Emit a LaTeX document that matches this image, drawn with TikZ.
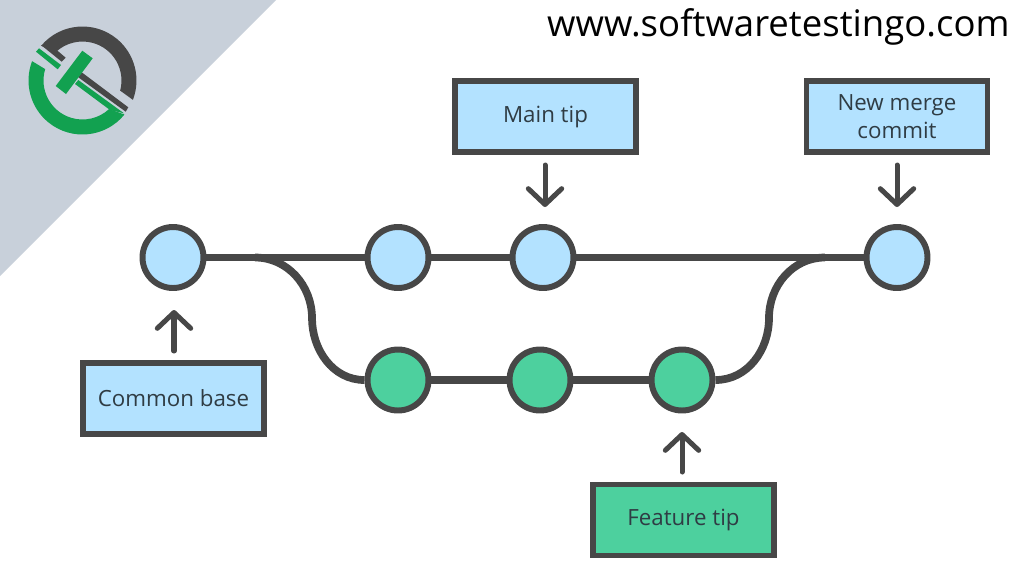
\documentclass[tikz,border=0pt]{standalone}
\usepackage{fontspec}
\setmainfont{Open Sans}
\usetikzlibrary{arrows.meta}
\definecolor{inkgray}{HTML}{474747}
\definecolor{bluefill}{HTML}{B3E2FF}
\definecolor{greenfill}{HTML}{4DD09E}
\definecolor{cornergray}{HTML}{C8D0DA}
\definecolor{logogreen}{HTML}{12A150}
\definecolor{labelink}{HTML}{2F3C44}
\tikzset{
  commit/.style={shape=circle,draw=inkgray,line width=3.4pt,minimum size=1.22cm,inner sep=0pt,fill=#1},
  label/.style={shape=rectangle,draw=inkgray,line width=3.2pt,minimum width=3.62cm,minimum height=1.42cm,inner sep=0pt,align=center,font=\fontsize{12.7}{16}\selectfont,text=labelink,fill=#1},
  link/.style={draw=inkgray,line width=4.4pt},
  pointer/.style={draw=inkgray,line width=2.85pt,line cap=round,-{Straight Barb[round,length=9pt,width=19pt,line width=2.85pt]}}
}
\begin{document}
\begin{tikzpicture}[x=0.02cm,y=-0.02cm]
\useasboundingbox (0,0) rectangle (1024,576);
\fill[cornergray] (0,0) -- (276,0) -- (0,276) -- cycle;
% logo
\begin{scope}[shift={(82.5,80.5)},y=0.02cm]
\fill[inkgray] (140:1.08cm) arc[start angle=140,end angle=-21,radius=1.08cm] -- (-15:0.78cm) arc[start angle=-15,end angle=133,radius=0.78cm] -- cycle;
\fill[logogreen] (-39:1.08cm) arc[start angle=-39,end angle=-201,radius=1.08cm] -- (-197:0.78cm) arc[start angle=-197,end angle=-47,radius=0.78cm] -- cycle;
\end{scope}
\fill[inkgray] (41,45) -- (61.7,61.7) -- (65.7,57.7) -- (56.7,50) -- cycle;
\fill[inkgray] (81.7,72.3) -- (128.3,107.3) -- (125.7,111.7) -- (78.3,77.3) -- cycle;
\fill[logogreen] (36,51.7) -- (39,48.3) -- (61,65) -- (57.7,69.3) -- cycle;
\fill[logogreen] (78.3,80) -- (124,113.3) -- (110,110) -- (75,84) -- cycle;
\fill[logogreen] (82.3,50.7) -- (92.7,58.3) -- (66,94) -- (55.7,86) -- cycle;
% commits
\node(base) at (173,257.5)[commit=bluefill]{};
\node(m1) at (398,257.5)[commit=bluefill]{};
\node(m2) at (543,257.5)[commit=bluefill]{};
\node(merge) at (897,257.5)[commit=bluefill]{};
\node(f1) at (398,380)[commit=greenfill]{};
\node(f2) at (540,380)[commit=greenfill]{};
\node(f3) at (682,380)[commit=greenfill]{};
% labels
\node(maintip) at (545.5,116.5)[label=bluefill]{Main tip};
\node(newmerge) at (897,116.5)[label=bluefill]{New merge\\commit};
\node(common) at (173.5,398.5)[label=bluefill]{Common base};
\node(feature) at (683.5,520)[label=greenfill]{Feature tip};
\node[anchor=base east,font=\fontsize{20.8}{24}\selectfont,inner sep=0pt](site) at (1010,36){www.softwaretestingo.com};
\coordinate(forkl) at (255,257.5);
\coordinate(bendl) at (312,318);
\coordinate(bendr) at (769,318);
\coordinate(forkr) at (825,257.5);
\path [link]
  (base)   edge (m1)
  (m1)     edge (m2)
  (m2)     edge (merge)
  (f1)     edge (f2)
  (f2)     edge (f3);
\draw[link] (forkl) to[out=0,in=90] (bendl) to[out=-90,in=180] (f1);
\draw[link] (f3) to[out=0,in=-90] (bendr) to[out=90,in=180] (forkr);
\coordinate(a1) at (545,165);
\coordinate(a2) at (545,207);
\coordinate(b1) at (897,165);
\coordinate(b2) at (897,207);
\coordinate(c1) at (174,351);
\coordinate(c2) at (174,310);
\coordinate(d1) at (682,472);
\coordinate(d2) at (682,432);
\draw[pointer] (a1) -- (a2);
\draw[pointer] (b1) -- (b2);
\draw[pointer] (c1) -- (c2);
\draw[pointer] (d1) -- (d2);
\end{tikzpicture}
\end{document}
